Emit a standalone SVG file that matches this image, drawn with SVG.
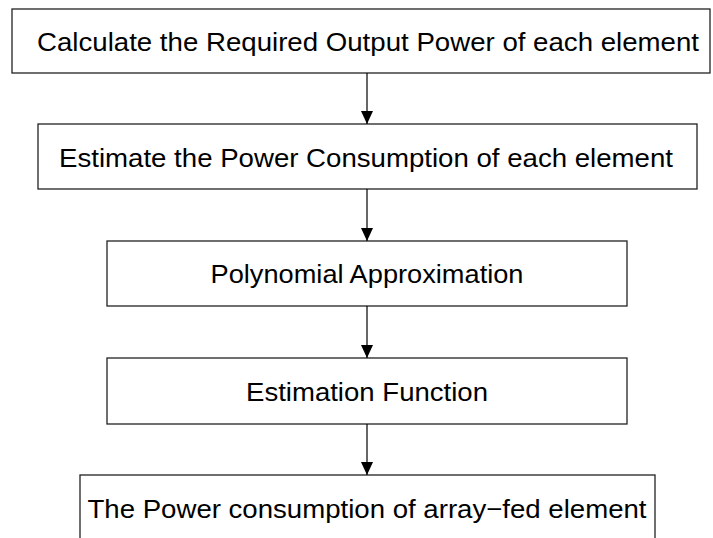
<svg xmlns="http://www.w3.org/2000/svg" width="713" height="538" viewBox="0 0 713 538">
<defs>
<marker id="ah" markerWidth="14" markerHeight="14" refX="13" refY="6" orient="auto" markerUnits="userSpaceOnUse">
<path d="M0,0 L13,6 L0,12 Z" fill="#000"/>
</marker>
<style>
.box{fill:#fff;stroke:#222;stroke-width:1.3}
.lbl{font-family:"Liberation Sans","Noto Sans CJK JP",sans-serif;font-size:26px;fill:#000;text-anchor:middle}
.con{stroke:#000;stroke-width:1.2;fill:none;marker-end:url(#ah)}
</style>
</defs>
<rect width="713" height="538" fill="#fff"/>
<g id="n1">
<rect class="box" x="12" y="9" width="698" height="64"/>
<text class="lbl" x="368" y="51" textLength="662" lengthAdjust="spacingAndGlyphs">Calculate the Required Output Power of each element</text>
</g>
<g id="n2">
<rect class="box" x="38" y="124" width="659" height="65"/>
<text class="lbl" x="366" y="167" textLength="614" lengthAdjust="spacingAndGlyphs">Estimate the Power Consumption of each element</text>
</g>
<g id="n3">
<rect class="box" x="107" y="241" width="520" height="65"/>
<text class="lbl" x="367" y="283" textLength="313" lengthAdjust="spacingAndGlyphs">Polynomial Approximation</text>
</g>
<g id="n4">
<rect class="box" x="107" y="358" width="520" height="66"/>
<text class="lbl" x="367" y="401" textLength="242" lengthAdjust="spacingAndGlyphs">Estimation Function</text>
</g>
<g id="n5">
<rect class="box" x="80" y="475" width="575" height="80"/>
<text class="lbl" x="367" y="518" textLength="559" lengthAdjust="spacingAndGlyphs">The Power consumption of array−fed element</text>
</g>
<g id="connectors">
<line class="con" x1="367" y1="73" x2="367" y2="124"/>
<line class="con" x1="367" y1="189" x2="367" y2="241"/>
<line class="con" x1="367" y1="306" x2="367" y2="358"/>
<line class="con" x1="367" y1="424" x2="367" y2="475"/>
</g>
</svg>
